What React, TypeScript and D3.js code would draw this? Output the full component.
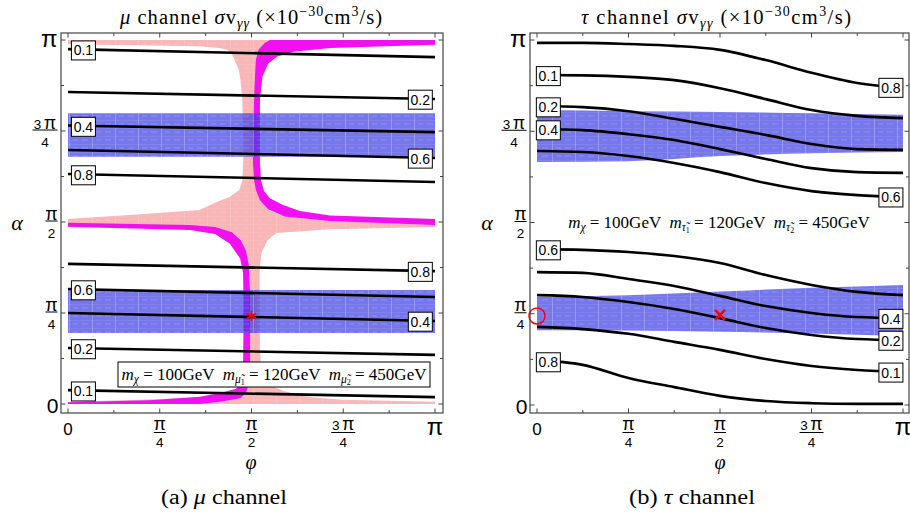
import React, { useLayoutEffect } from "react";
import * as d3 from "d3";

const W = 910;
const H = 514;

// ---------- shared axis ticks (units of π) ----------
const minorTicks = [0, 0.125, 0.25, 0.375, 0.5, 0.625, 0.75, 0.875, 1];
const tickValues = [0, 0.25, 0.5, 0.75, 1];
const tickNum = ["0", "π", "π", "3π", "π"];
const tickDen = ["", "4", "2", "4", ""];

// ---------- μ channel (left) : contour lines, α/π at φ=0 and φ=π ----------
const muPhiEnds = [0, 1];
const muLevels = ["0.1", "0.2", "0.4", "0.6", "0.8", "0.8", "0.6", "0.4", "0.2", "0.1"];
const muAlphaLeft = [0.975, 0.857, 0.765, 0.698, 0.632, 0.385, 0.316, 0.25, 0.154, 0.038];
const muAlphaRight = [0.953, 0.838, 0.747, 0.676, 0.61, 0.365, 0.294, 0.228, 0.135, 0.019];
const muLabelSide = ["L", "R", "L", "R", "L", "R", "L", "R", "L", "L"];
const muBandUpper = [0.679, 0.799];
const muBandLower = [0.195, 0.313];
const muStar = [0.5, 0.242];

// pink region: half-widths (φ/π) left and right of φ=π/2 at each α/π
const pinkAlpha = [0, 0.006, 0.012, 0.018, 0.025, 0.035, 0.044, 0.06, 0.093, 0.148, 0.25, 0.368, 0.415, 0.45, 0.47, 0.48, 0.486, 0.508, 0.512, 0.519, 0.533, 0.555, 0.569, 0.588, 0.615, 0.68, 0.75, 0.835, 0.89, 0.918, 0.945, 0.962, 0.973, 0.978, 0.983, 0.988, 0.992, 1];
const pinkLeftW = [0.5, 0.5, 0.3, 0.15, 0.08, 0.04, 0.025, 0.019, 0.019, 0.019, 0.019, 0.019, 0.02, 0.028, 0.05, 0.08, 0.5, 0.5, 0.45, 0.332, 0.142, 0.095, 0.06, 0.033, 0.025, 0.022, 0.023, 0.025, 0.03, 0.035, 0.046, 0.054, 0.065, 0.087, 0.142, 0.5, 0.5, 0.5];
const pinkRightW = [0.5, 0.5, 0.245, 0.169, 0.131, 0.09, 0.068, 0.038, 0.027, 0.023, 0.022, 0.022, 0.027, 0.044, 0.068, 0.213, 0.5, 0.5, 0.2, 0.08, 0.045, 0.03, 0.022, 0.02, 0.02, 0.02, 0.02, 0.02, 0.02, 0.02, 0.02, 0.025, 0.03, 0.035, 0.05, 0.1, 0.5, 0.5];

// magenta band, upper branch (outer / inner edges), φ/π and α/π
const magUpOuterPhi = [1, 0.55, 0.536, 0.519, 0.512, 0.51, 0.507, 0.505, 0.504, 0.507, 0.512, 0.523, 0.545, 0.591, 0.714, 1];
const magUpOuterAlpha = [1, 1, 0.992, 0.973, 0.945, 0.909, 0.835, 0.75, 0.662, 0.615, 0.588, 0.56, 0.535, 0.515, 0.503, 0.492];
const magUpInnerPhi = [1, 0.714, 0.615, 0.57, 0.545, 0.53, 0.523, 0.523, 0.523, 0.526, 0.534, 0.55, 0.586, 0.632, 0.714, 1];
const magUpInnerAlpha = [0.987, 0.978, 0.968, 0.955, 0.935, 0.9, 0.835, 0.75, 0.662, 0.615, 0.585, 0.565, 0.547, 0.53, 0.518, 0.508];
// magenta band, lower branch
const magLoOuterPhi = [0, 0.332, 0.401, 0.447, 0.471, 0.485, 0.493, 0.496, 0.496, 0.496, 0.493, 0.485, 0.469, 0.414, 0.36, 0];
const magLoOuterAlpha = [0.498, 0.492, 0.486, 0.472, 0.45, 0.42, 0.38, 0.3, 0.2, 0.1, 0.06, 0.03, 0.016, 0.006, 0, 0];
const magLoInnerPhi = [0, 0.332, 0.401, 0.441, 0.469, 0.477, 0.478, 0.478, 0.477, 0.471, 0.458, 0.414, 0.36, 0.223, 0];
const magLoInnerAlpha = [0.487, 0.478, 0.467, 0.44, 0.4, 0.36, 0.3, 0.2, 0.1, 0.06, 0.042, 0.03, 0.02, 0.01, 0.005];

// ---------- τ channel (right) ----------
const tauPhi = [0, 0.125, 0.25, 0.375, 0.5, 0.625, 0.75, 0.875, 1];
const tauCurve1 = [0.992, 0.992, 0.989, 0.984, 0.973, 0.945, 0.91, 0.882, 0.868];
const tauCurve2 = [0.904, 0.903, 0.899, 0.89, 0.868, 0.838, 0.808, 0.792, 0.786];
const tauCurve3 = [0.819, 0.816, 0.805, 0.784, 0.762, 0.74, 0.715, 0.701, 0.699];
const tauCurve4 = [0.756, 0.753, 0.742, 0.726, 0.701, 0.674, 0.649, 0.638, 0.636];
const tauCurve5 = [0.696, 0.693, 0.682, 0.663, 0.638, 0.608, 0.586, 0.575, 0.57];
const tauCurve6 = [0.427, 0.425, 0.419, 0.408, 0.389, 0.356, 0.329, 0.31, 0.301];
const tauCurve7 = [0.364, 0.362, 0.345, 0.326, 0.299, 0.271, 0.252, 0.241, 0.238];
const tauCurve8 = [0.301, 0.296, 0.282, 0.263, 0.238, 0.211, 0.192, 0.181, 0.178];
const tauCurve9 = [0.214, 0.208, 0.195, 0.173, 0.151, 0.126, 0.107, 0.096, 0.09];
const tauCurve10 = [0.123, 0.11, 0.074, 0.049, 0.025, 0.011, 0.005, 0.003, 0.003];
const tauCurves = [tauCurve1, tauCurve2, tauCurve3, tauCurve4, tauCurve5, tauCurve6, tauCurve7, tauCurve8, tauCurve9, tauCurve10];
const tauLevels = ["0.8", "0.1", "0.2", "0.4", "0.6", "0.6", "0.4", "0.2", "0.1", "0.8"];
const tauLabelSide = ["R", "L", "L", "L", "R", "L", "R", "R", "R", "L"];
const tauBandPhi = [0, 0.25, 0.5, 0.75, 1];
const tauBandUpperTop = [0.808, 0.805, 0.803, 0.799, 0.795];
const tauBandUpperBottom = [0.666, 0.668, 0.682, 0.69, 0.693];
const tauBandLowerTop = [0.296, 0.301, 0.311, 0.321, 0.329];
const tauBandLowerBottom = [0.205, 0.204, 0.201, 0.196, 0.189];
const tauCross = [0.5, 0.247];
const tauCircle = [0, 0.244];

const SANS = "'Liberation Sans', Arial, sans-serif";
const SERIF = "'Liberation Serif', 'Times New Roman', serif";
const BLUE = "#3c3ce6";
const BLUE_OP = 0.7;
const PINK = "#f8b6b6";
const MAGENTA = "#f010f0";
const FRAME = "#444";

type Frame = { fx0: number; fx1: number; fy0: number; fy1: number };
type Sc = d3.ScaleLinear<number, number>;

function FrameAxes({ f, xs, ys }: { f: Frame; xs: Sc; ys: Sc }) {
  const out: JSX.Element[] = [];
  minorTicks.forEach((t, i) => {
    const len = i % 2 === 0 ? 4.5 : 3;
    const x = xs(t);
    const y = ys(t);
    out.push(<line key={"b" + i} x1={x} x2={x} y1={f.fy1} y2={f.fy1 - len} />);
    out.push(<line key={"t" + i} x1={x} x2={x} y1={f.fy0} y2={f.fy0 + len} />);
    out.push(<line key={"l" + i} x1={f.fx0} x2={f.fx0 + len} y1={y} y2={y} />);
    out.push(<line key={"r" + i} x1={f.fx1} x2={f.fx1 - len} y1={y} y2={y} />);
  });
  return (
    <g stroke={FRAME} strokeWidth={1}>
      <rect x={f.fx0} y={f.fy0} width={f.fx1 - f.fx0} height={f.fy1 - f.fy0} fill="none" strokeWidth={1.2} />
      {out}
    </g>
  );
}

function NumText({ s, size }: { s: string; size: number }) {
  if (s.startsWith("3")) {
    return (
      <>
        <tspan fontSize={size * 0.75}>3</tspan>
        <tspan dx={2.5}>π</tspan>
      </>
    );
  }
  return <>{s}</>;
}

function XTickLabels({ xs }: { xs: Sc }) {
  return (
    <g fontFamily={SANS} fill="#000">
      {tickValues.map((v, i) => {
        const x = xs(v);
        if (tickDen[i] === "") {
          const isPi = tickNum[i] === "π";
          return (
            <text key={i} x={x} y={435} textAnchor="middle" fontSize={isPi ? 24 : 17}>
              {tickNum[i]}
            </text>
          );
        }
        const bw = tickNum[i].startsWith("3") ? 24 : 12;
        return (
          <g key={i}>
            <text x={x} y={430} textAnchor="middle" fontSize={18}>
              <NumText s={tickNum[i]} size={18} />
            </text>
            <line x1={x - bw / 2} x2={x + bw / 2} y1={432.5} y2={432.5} stroke="#000" strokeWidth={1} />
            <text x={x} y={446.5} textAnchor="middle" fontSize={13.5}>
              {tickDen[i]}
            </text>
          </g>
        );
      })}
    </g>
  );
}

function YTickLabels({ ys, right }: { ys: Sc; right: number }) {
  return (
    <g fontFamily={SANS} fill="#000">
      {tickValues.map((v, i) => {
        const y = ys(v);
        if (tickDen[i] === "") {
          const isPi = tickNum[i] === "π";
          return (
            <text key={i} x={right + (isPi ? 0 : 1)} y={y + (isPi ? 7 : 9)} textAnchor="end" fontSize={isPi ? 24 : 21}>
              {tickNum[i]}
            </text>
          );
        }
        const bw = tickNum[i].startsWith("3") ? 25 : 12;
        const cx = right - bw / 2;
        return (
          <g key={i}>
            <text x={cx} y={y - 2.5} textAnchor="middle" fontSize={18}>
              <NumText s={tickNum[i]} size={18} />
            </text>
            <line x1={cx - bw / 2} x2={cx + bw / 2} y1={y - 1} y2={y - 1} stroke="#000" strokeWidth={1} />
            <text x={cx} y={y + 15.5} textAnchor="middle" fontSize={13.5}>
              {tickDen[i]}
            </text>
          </g>
        );
      })}
    </g>
  );
}

function CLabel({ x, y, t }: { x: number; y: number; t: string }) {
  return (
    <g>
      <rect x={x - 12} y={y - 9.5} width={24} height={19} fill="#fff" stroke="#000" strokeWidth={1} />
      <text x={x} y={y + 5} textAnchor="middle" fontSize={14} fontFamily={SANS}>
        {t}
      </text>
    </g>
  );
}

function Title({ cx, particle, len }: { cx: number; particle: string; len: number }) {
  return (
    <text
      x={cx}
      y={24}
      textAnchor="middle"
      fontFamily={SERIF}
      fontSize={20.5}
      textLength={len}
      lengthAdjust="spacing"
      style={{ whiteSpace: "pre" }}
    >
      <tspan fontStyle="italic">{particle}</tspan>
      <tspan> channel </tspan>
      <tspan fontStyle="italic">σ</tspan>
      <tspan>v</tspan>
      <tspan fontStyle="italic" fontSize={14} dy={4}>γγ</tspan>
      <tspan dy={-4}> (×10</tspan>
      <tspan fontSize={14} dy={-8}>−30</tspan>
      <tspan dy={8}>cm</tspan>
      <tspan fontSize={14} dy={-8}>3</tspan>
      <tspan dy={8}>/s)</tspan>
    </text>
  );
}

function MassText({ x, y, p }: { x: number; y: number; p: string }) {
  return (
    <text x={x} y={y} textAnchor="middle" fontFamily={SERIF} fontSize={17} style={{ whiteSpace: "pre" }}>
      <tspan fontStyle="italic">m</tspan>
      <tspan fontStyle="italic" fontSize={11.5} dy={3}>χ</tspan>
      <tspan dy={-3}> = 100GeV  </tspan>
      <tspan fontStyle="italic">m</tspan>
      <tspan fontStyle="italic" fontSize={11.5} dy={3}>{p + "\u0303"}</tspan>
      <tspan fontSize={8} dy={2}>1</tspan>
      <tspan dy={-5}> = 120GeV  </tspan>
      <tspan fontStyle="italic">m</tspan>
      <tspan fontStyle="italic" fontSize={11.5} dy={3}>{p + "\u0303"}</tspan>
      <tspan fontSize={8} dy={2}>2</tspan>
      <tspan dy={-5}> = 450GeV</tspan>
    </text>
  );
}

function Caption({ cx, tag, particle }: { cx: number; tag: string; particle: string }) {
  return (
    <text
      x={cx}
      y={504}
      textAnchor="middle"
      fontFamily={SERIF}
      fontSize={20}
      textLength={126}
      lengthAdjust="spacingAndGlyphs"
      style={{ whiteSpace: "pre" }}
    >
      <tspan>{"(" + tag + ") "}</tspan>
      <tspan fontStyle="italic">{particle}</tspan>
      <tspan> channel</tspan>
    </text>
  );
}

export default function App() {
  useLayoutEffect(() => {
    document.body.style.margin = "0";
  }, []);

  // ---- scales ----
  const fL: Frame = { fx0: 61, fx1: 443, fy0: 33, fy1: 413 };
  const xL = d3.scaleLinear().domain([0, 1]).range([68, 435]);
  const yL = d3.scaleLinear().domain([0, 1]).range([404, 40]);
  const fR: Frame = { fx0: 530, fx1: 909, fy0: 33, fy1: 413 };
  const xR = d3.scaleLinear().domain([0, 1]).range([537, 903]);
  const yR = d3.scaleLinear().domain([0, 1]).range([405, 40]);

  const lineL = d3.line<[number, number]>().x((d) => xL(d[0])).y((d) => yL(d[1]));
  const lineR = d3
    .line<[number, number]>()
    .x((d) => xR(d[0]))
    .y((d) => yR(d[1]))
    .curve(d3.curveMonotoneX);

  // ---- left panel geometry ----
  const pinkPts: [number, number][] = [
    ...pinkAlpha.map((a, i) => [Math.min(1, 0.5 + pinkRightW[i]), a] as [number, number]),
    ...pinkAlpha.map((a, i) => [Math.max(0, 0.5 - pinkLeftW[i]), a] as [number, number]).reverse(),
  ];
  const poly = (op: number[], oa: number[], ip: number[], ia: number[]) => {
    const outer = op.map((p, i) => [p, oa[i]] as [number, number]);
    const inner = ip.map((p, i) => [p, ia[i]] as [number, number]).reverse();
    return lineL([...outer, ...inner]) + "Z";
  };
  const magUp = poly(magUpOuterPhi, magUpOuterAlpha, magUpInnerPhi, magUpInnerAlpha);
  const magLo = poly(magLoOuterPhi, magLoOuterAlpha, magLoInnerPhi, magLoInnerAlpha);

  const bandL = (b: number[]) =>
    d3
      .area<number>()
      .x((p) => xL(p))
      .y0(yL(b[0]))
      .y1(yL(b[1]))(muPhiEnds) as string;

  const tauArea = (lo: number[], hi: number[]) =>
    d3
      .area<number>()
      .x((p) => xR(p))
      .y0((_, i) => yR(lo[i]))
      .y1((_, i) => yR(hi[i]))
      .curve(d3.curveMonotoneX)(tauBandPhi) as string;

  const starX = xL(muStar[0]);
  const starY = yL(muStar[1]);
  const crossX = xR(tauCross[0]);
  const crossY = yR(tauCross[1]);

  return (
    <svg width={W} height={H} viewBox={`0 0 ${W} ${H}`} style={{ display: "block", background: "#fff" }}>
      <defs>
        <pattern id="mesh" patternUnits="userSpaceOnUse" width={23} height={8}>
          <path d="M0.5,0V8" stroke="#fff" strokeOpacity={0.3} strokeWidth={0.8} />
          <path d="M0,0.5H23" stroke="#fff" strokeOpacity={0.15} strokeWidth={0.6} />
          <path d="M4,4H9M13,4H19" stroke="#fff" strokeOpacity={0.25} strokeWidth={0.8} />
        </pattern>
        <clipPath id="clipL">
          <rect x={fL.fx0} y={fL.fy0} width={fL.fx1 - fL.fx0} height={fL.fy1 - fL.fy0} />
        </clipPath>
        <clipPath id="clipR">
          <rect x={fR.fx0} y={fR.fy0} width={fR.fx1 - fR.fx0} height={fR.fy1 - fR.fy0} />
        </clipPath>
      </defs>

      {/* ================= LEFT: μ channel ================= */}
      <Title cx={251} particle="μ" len={262} />
      <g clipPath="url(#clipL)">
        <path d={lineL(pinkPts) + "Z"} fill={PINK} />
        <path d={lineL(pinkPts) + "Z"} fill="url(#mesh)" opacity={0.6} />
        <path d={magUp} fill={MAGENTA} />
        <path d={magLo} fill={MAGENTA} />
        {[muBandUpper, muBandLower].map((b, i) => (
          <g key={i}>
            <path d={bandL(b)} fill={BLUE} fillOpacity={BLUE_OP} />
            <path d={bandL(b)} fill="url(#mesh)" />
          </g>
        ))}
        {muLevels.map((lv, i) => (
          <path
            key={i}
            d={lineL(muPhiEnds.map((p, j) => [p, j === 0 ? muAlphaLeft[i] : muAlphaRight[i]] as [number, number])) as string}
            fill="none"
            stroke="#000"
            strokeWidth={2.6}
          />
        ))}
        <g stroke="#f00" strokeWidth={1.8}>
          <line x1={starX} x2={starX} y1={starY - 5} y2={starY + 5} />
          <line x1={starX - 4.5} x2={starX + 4.5} y1={starY - 2.5} y2={starY + 2.5} />
          <line x1={starX - 4.5} x2={starX + 4.5} y1={starY + 2.5} y2={starY - 2.5} />
        </g>
      </g>
      {muLevels.map((lv, i) => {
        const p = muLabelSide[i] === "L" ? 0.042 : 0.96;
        const a = d3.scaleLinear().domain(muPhiEnds).range([muAlphaLeft[i], muAlphaRight[i]])(p);
        return <CLabel key={i} x={xL(p)} y={yL(a) + 1} t={lv} />;
      })}
      <rect x={118} y={362} width={312} height={25} fill="#fff" stroke="#000" strokeWidth={1} />
      <MassText x={274} y={380} p="μ" />
      <FrameAxes f={fL} xs={xL} ys={yL} />
      <XTickLabels xs={xL} />
      <YTickLabels ys={yL} right={57.5} />
      <text x={17} y={230} textAnchor="middle" fontFamily={SERIF} fontStyle="italic" fontSize={22}>α</text>
      <text x={251} y={469} textAnchor="middle" fontFamily={SERIF} fontStyle="italic" fontSize={20}>φ</text>
      <Caption cx={224} tag="a" particle="μ" />

      {/* ================= RIGHT: τ channel ================= */}
      <Title cx={716} particle="τ" len={270} />
      <g clipPath="url(#clipR)">
        {[
          [tauBandUpperBottom, tauBandUpperTop],
          [tauBandLowerBottom, tauBandLowerTop],
        ].map((b, i) => (
          <g key={i}>
            <path d={tauArea(b[0], b[1])} fill={BLUE} fillOpacity={BLUE_OP} />
            <path d={tauArea(b[0], b[1])} fill="url(#mesh)" />
          </g>
        ))}
        {tauCurves.map((c, i) => (
          <path
            key={i}
            d={lineR(tauPhi.map((p, j) => [p, c[j]] as [number, number])) as string}
            fill="none"
            stroke="#000"
            strokeWidth={2.6}
          />
        ))}
        <g stroke="#f00" strokeWidth={2.4}>
          <line x1={crossX - 5} x2={crossX + 5} y1={crossY - 5} y2={crossY + 5} />
          <line x1={crossX - 5} x2={crossX + 5} y1={crossY + 5} y2={crossY - 5} />
        </g>
      </g>
      <circle cx={xR(tauCircle[0])} cy={yR(tauCircle[1])} r={8} fill="none" stroke="#f00" strokeWidth={1.5} />
      {tauCurves.map((c, i) => {
        const p = tauLabelSide[i] === "L" ? 0.031 : 0.967;
        const a = d3.scaleLinear().domain(tauPhi).range(c)(p);
        return <CLabel key={i} x={xR(p)} y={yR(a) + 1} t={tauLevels[i]} />;
      })}
      <MassText x={719} y={228} p="τ" />
      <FrameAxes f={fR} xs={xR} ys={yR} />
      <XTickLabels xs={xR} />
      <YTickLabels ys={yR} right={526.5} />
      <text x={487} y={230} textAnchor="middle" fontFamily={SERIF} fontStyle="italic" fontSize={22}>α</text>
      <text x={720} y={469} textAnchor="middle" fontFamily={SERIF} fontStyle="italic" fontSize={20}>φ</text>
      <Caption cx={692} tag="b" particle="τ" />
    </svg>
  );
}
